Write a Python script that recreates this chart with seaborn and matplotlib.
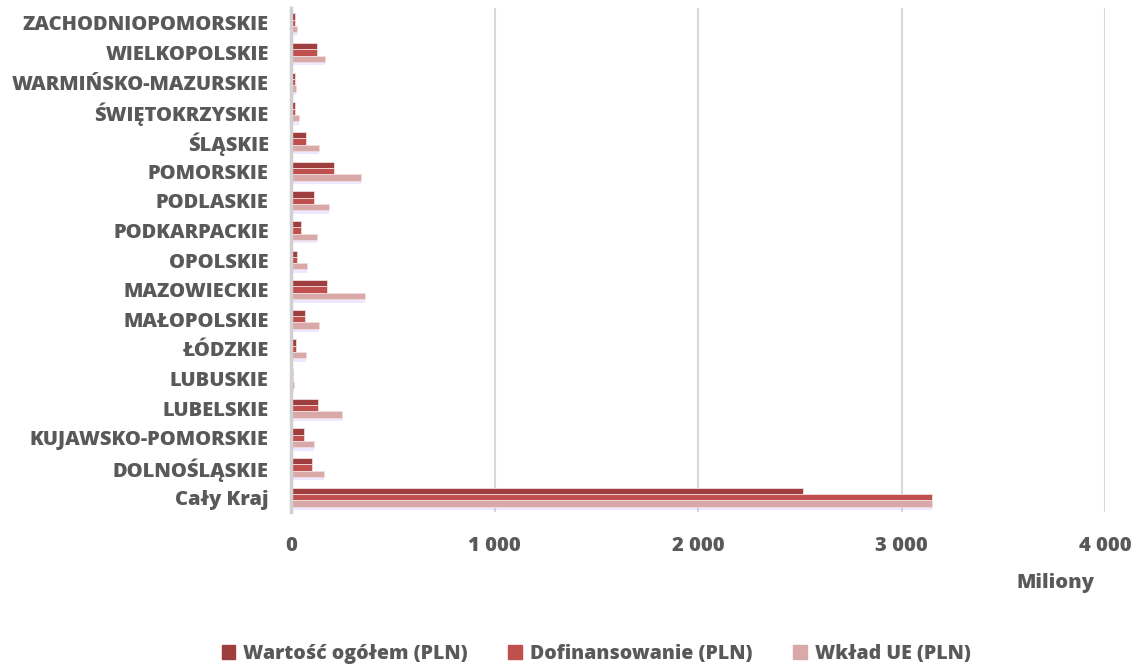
import matplotlib
matplotlib.use("Agg")
import matplotlib.pyplot as plt
import matplotlib.patheffects as pe
import seaborn as sns
import pandas as pd

regions = [
    "ZACHODNIOPOMORSKIE", "WIELKOPOLSKIE", "WARMIŃSKO-MAZURSKIE", "ŚWIĘTOKRZYSKIE",
    "ŚLĄSKIE", "POMORSKIE", "PODLASKIE", "PODKARPACKIE", "OPOLSKIE", "MAZOWIECKIE",
    "MAŁOPOLSKIE", "ŁÓDZKIE", "LUBUSKIE", "LUBELSKIE", "KUJAWSKO-POMORSKIE",
    "DOLNOŚLĄSKIE", "Cały Kraj",
]
# values in millions of PLN
wartosc_ogolem = [20, 126, 18, 18, 75, 212, 113, 49, 28, 176, 69, 25, 11, 131, 65, 105, 2515]
dofinansowanie = [20, 126, 18, 18, 75, 212, 113, 49, 28, 176, 69, 25, 11, 131, 65, 105, 3152]
wklad_ue = [30, 165, 26, 39, 136, 343, 188, 126, 78, 363, 139, 72, 16, 253, 114, 163, 3152]
series_names = ["Wartość ogółem (PLN)", "Dofinansowanie (PLN)", "Wkład UE (PLN)"]
x_ticks = [0, 1000, 2000, 3000, 4000]
x_tick_labels = ["0", "1 000", "2 000", "3 000", "4 000"]

colors = ["#9e3e3e", "#c0504d", "#d9a8a8"]
text_color = "#595959"
weight = 800

df = pd.DataFrame({
    "region": regions * 3,
    "value": wartosc_ogolem + dofinansowanie + wklad_ue,
    "series": [series_names[0]] * len(regions)
    + [series_names[1]] * len(regions)
    + [series_names[2]] * len(regions),
})

sns.set_theme(style="white")
plt.rcParams["font.family"] = ["Open Sans", "DejaVu Sans"]
plt.rcParams["font.weight"] = weight

fig = plt.figure(figsize=(11.34, 6.64), dpi=100)
ax = fig.add_axes([291 / 1134, 1 - 512 / 664, (1105 - 291) / 1134, (512 - 8) / 664])

sns.barplot(
    data=df, y="region", x="value", hue="series", order=regions,
    hue_order=series_names, palette=colors, orient="h", width=0.64,
    dodge=True, gap=0, ax=ax, legend=False, saturation=1,
    edgecolor="#f2dcdc", linewidth=0.6,
)

shadow = [pe.SimplePatchShadow(offset=(0, -2.5), shadow_rgbFace="#b9a6ff", alpha=0.25), pe.Normal()]
for p in ax.patches:
    p.set_path_effects(shadow)

ax.set_xlim(0, 4000)
ax.set_xticks(x_ticks)
ax.set_xticklabels(x_tick_labels)
ax.grid(axis="x", color="#d9d9d9", linewidth=1.5)
ax.set_axisbelow(True)
for s in ["top", "right", "bottom"]:
    ax.spines[s].set_visible(False)
ax.spines["left"].set_color("#d0d0d0")
ax.spines["left"].set_linewidth(2.5)
ax.tick_params(axis="both", length=0, colors=text_color, labelsize=14.5)
ax.tick_params(axis="x", pad=17)
ax.tick_params(axis="y", pad=16)
for lbl in ax.get_xticklabels() + ax.get_yticklabels():
    lbl.set_fontweight(weight)
    lbl.set_color(text_color)
ax.set_ylabel("")
ax.set_xlabel("")
fig.text(1055 / 1134, 1 - 583 / 664, "Miliony", ha="center", va="center",
         fontsize=14.5, fontweight=weight, color=text_color)

handles = [plt.Rectangle((0, 0), 1, 1, color=c) for c in colors]
leg = fig.legend(handles, series_names, loc="center", bbox_to_anchor=(596 / 1134, 1 - 654 / 664),
                 ncol=3, frameon=False, handlelength=0.7, handleheight=0.7,
                 handletextpad=0.4, columnspacing=2.1, prop={"size": 14, "weight": weight})
for t in leg.get_texts():
    t.set_color(text_color)

fig.savefig("out.png", dpi=100)
